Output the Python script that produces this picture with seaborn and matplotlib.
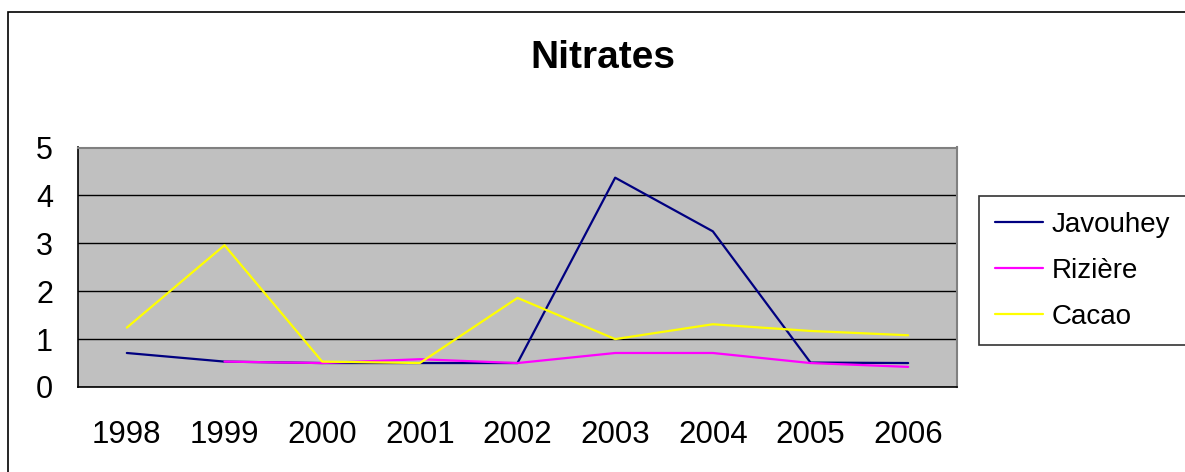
import numpy as np
import pandas as pd
import matplotlib
matplotlib.use('Agg')
import matplotlib.pyplot as plt
from matplotlib.patches import Rectangle
import seaborn as sns

# Données
annees = ['1998', '1999', '2000', '2001', '2002', '2003', '2004', '2005', '2006']
javouhey = [0.71, 0.53, 0.50, 0.50, 0.50, 4.37, 3.25, 0.51, 0.50]
riziere = [np.nan, 0.53, 0.50, 0.58, 0.50, 0.71, 0.71, 0.50, 0.42]
cacao = [1.24, 2.96, 0.53, 0.50, 1.86, 1.00, 1.31, 1.17, 1.08]
series = ['Javouhey', 'Rizière', 'Cacao']
couleurs = ['#000080', '#FF00FF', '#FFFF00']


def main():
    df = pd.DataFrame({'pos': np.arange(len(annees)),
                       'Javouhey': javouhey, 'Rizière': riziere, 'Cacao': cacao})
    df_long = df.melt(id_vars='pos', var_name='serie', value_name='valeur').dropna()

    sns.set_style('white')
    plt.rcParams['font.family'] = ['Liberation Sans', 'DejaVu Sans']
    plt.rcParams['text.color'] = 'black'
    plt.rcParams['xtick.color'] = 'black'
    plt.rcParams['ytick.color'] = 'black'

    W, H = 1185, 472
    fig = plt.figure(figsize=(W / 100, H / 100), dpi=100)
    ax = fig.add_axes([78 / W, 1 - 387 / H, (957 - 78) / W, (387 - 147.5) / H])

    # cadre extérieur du graphique (style Excel)
    fig.patches.append(Rectangle((8 / W, -0.1), 1.2, 1 - 12 / H + 0.1,
                                 transform=fig.transFigure, fill=False,
                                 edgecolor='black', linewidth=1.2))

    ax.set_facecolor('#C0C0C0')
    sns.lineplot(data=df_long, x='pos', y='valeur', hue='serie', hue_order=series,
                 palette=couleurs, linewidth=1.6, ax=ax, legend=False, sort=False)

    ax.set_xlim(-0.5, len(annees) - 0.5)
    ax.set_ylim(0, 5)
    ax.set_yticks(range(6))
    ax.yaxis.grid(True, color='black', linewidth=1)
    ax.set_axisbelow(True)

    # graduations entre les catégories, étiquettes au centre
    ax.set_xticks(np.arange(-0.5, len(annees), 1))
    ax.set_xticklabels([])
    ax.set_xticks(np.arange(len(annees)), minor=True)
    ax.set_xticklabels(annees, minor=True)
    ax.tick_params(axis='x', which='major', direction='out', length=8, width=1, color='black')
    ax.tick_params(axis='x', which='minor', length=0, pad=24, labelsize=22.5)
    ax.tick_params(axis='y', direction='out', length=8, width=1, color='black',
                   labelsize=22, pad=10)
    ax.set_xlabel('')
    ax.set_ylabel('')

    for cote in ['left', 'bottom']:
        ax.spines[cote].set_color('black')
        ax.spines[cote].set_linewidth(1.2)
    for cote in ['top', 'right']:
        ax.spines[cote].set_color('#808080')
        ax.spines[cote].set_linewidth(1.5)

    fig.text(603 / W, 1 - 68 / H, 'Nitrates', ha='center', va='baseline',
             fontsize=28, fontweight='bold')

    poignees = [plt.Line2D([], [], color=c, linewidth=1.6) for c in couleurs]
    leg = fig.legend(poignees, series, loc='upper left',
                     bbox_to_anchor=(979 / W, 1 - 196 / H), fontsize=20,
                     frameon=True, fancybox=False, shadow=False,
                     handlelength=1.76, handletextpad=0.3, labelspacing=0.72,
                     borderpad=0.56, borderaxespad=0)
    leg.get_frame().set_edgecolor('black')
    leg.get_frame().set_linewidth(1.2)

    fig.savefig('out.png', dpi=100)


if __name__ == '__main__':
    main()
